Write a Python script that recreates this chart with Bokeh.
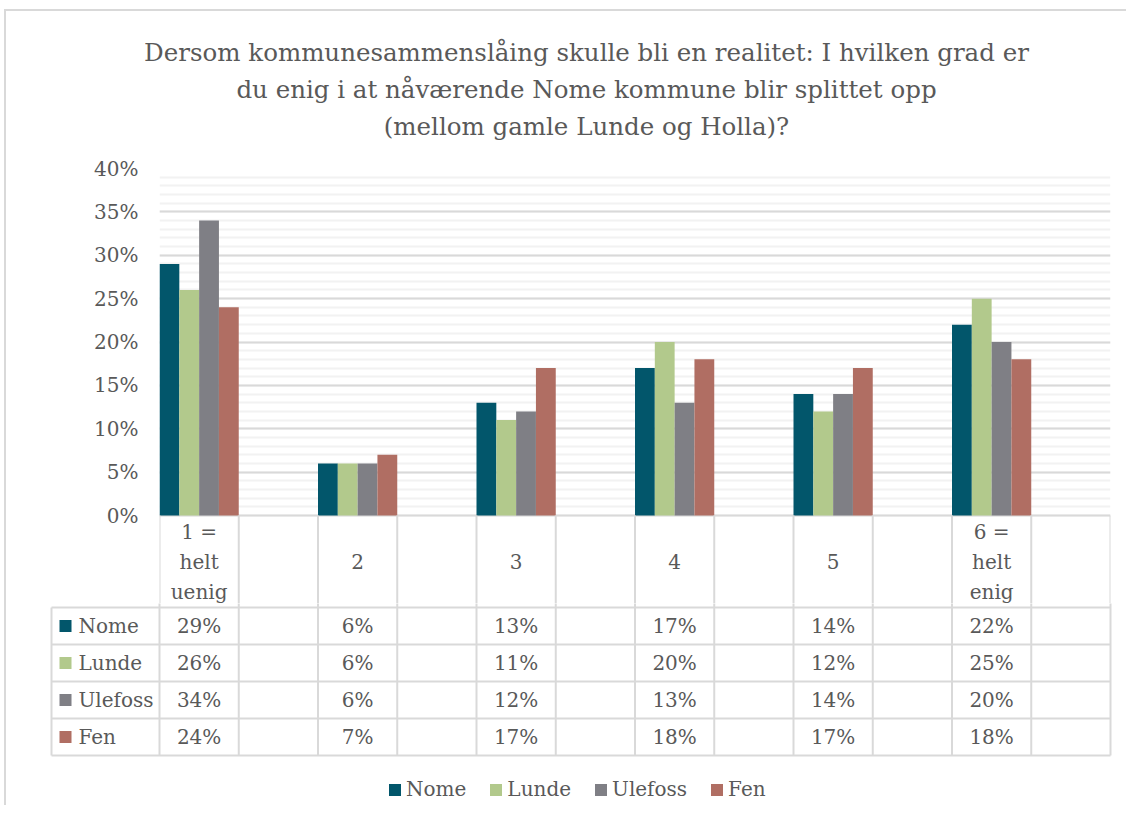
from bokeh.plotting import figure
from bokeh.models import (Range1d, FixedTicker, PrintfTickFormatter,
                          Legend, LegendItem)
from bokeh.layouts import column
from bokeh.embed import file_html
from bokeh.resources import INLINE
from bokeh.core.properties import value

# ---------------- data ----------------
title_lines = [
    "Dersom kommunesammenslåing skulle bli en realitet: I hvilken grad er",
    "du enig i at nåværende Nome kommune blir splittet opp",
    "(mellom gamle Lunde og Holla)?",
]
categories = ["1 =\nhelt\nuenig", "2", "3", "4", "5", "6 =\nhelt\nenig"]
series = ["Nome", "Lunde", "Ulefoss", "Fen"]
nome = [29, 6, 13, 17, 14, 22]
lunde = [26, 6, 11, 20, 12, 25]
ulefoss = [34, 6, 12, 13, 14, 20]
fen = [24, 7, 17, 18, 17, 18]
y_max = 40
y_step = 5
y_ticks = list(range(0, y_max + 1, y_step))
y_minor = list(range(0, y_max + 1, 1))

# ---------------- style ----------------
colors = ["#02566b", "#b2c98c", "#7f7f85", "#b06e63"]
TXT = "#595959"
GRID = "#d9d9d9"
MINOR = "#f2f2f2"
FONT = "DejaVu Serif"
FS = "20px"

# layout (page pixel constants)
ORG_X, ORG_Y = 6, 11
W = 1120
FR_L, FR_R, FR_T, FR_B = 159, 1110, 168, 515
P1_TOP = 150
TB_L = 51
HEADER_H = 92
ROW_H = 37
SEAM = FR_B + HEADER_H - 4     # chart figure (with header row) ends here, table rows below
PAGE_BOTTOM = 805
TITLE_CX = 586
TITLE_Y = [52, 89, 126]
LEGEND_X = 387
LEGEND_CY = 790

data = [nome, lunde, ulefoss, fen]
n_cat = len(categories)
n_cols = 2 * n_cat          # every category is followed by an empty column
col_px = (FR_R - FR_L) / n_cols
px_per_unit = (FR_B - FR_T) / y_max
bar_w = 1.0 / len(series)
x_start = -(FR_L - ORG_X) / col_px
x_end = n_cols + (ORG_X + W - FR_R) / col_px


def bare(height, y_range):
    f = figure(width=W, height=height, x_range=Range1d(x_start, x_end), y_range=y_range,
               output_backend="svg", toolbar_location=None, x_axis_location=None,
               y_axis_location=None, min_border_left=0, min_border_right=0,
               min_border_top=0, min_border_bottom=0)
    f.outline_line_color = None
    f.grid.visible = False
    f.frame_align = False
    return f


# ---------------- title ----------------
t_h = P1_TOP - ORG_Y
pt = bare(t_h, Range1d(t_h, 0))
pt.text(x=[(TITLE_CX - FR_L) / col_px] * len(title_lines), y=[ty - ORG_Y for ty in TITLE_Y],
        text=title_lines, text_font=value(FONT), text_font_size="24.5px", text_color=TXT,
        text_align="center", text_baseline="middle")

# ---------------- chart + header row of the data table ----------------
y_lo = -(SEAM - FR_B) / px_per_unit
p1 = figure(width=W, height=SEAM - P1_TOP, x_range=Range1d(0, n_cols),
            y_range=Range1d(y_lo, y_max),
            output_backend="svg", toolbar_location=None, x_axis_location=None,
            min_border_left=FR_L - ORG_X, min_border_right=ORG_X + W - FR_R,
            min_border_top=FR_T - P1_TOP, min_border_bottom=0)
p1.frame_align = False
p1.outline_line_color = None
p1.xgrid.visible = False
p1.yaxis.ticker = FixedTicker(ticks=y_ticks, minor_ticks=y_minor)
p1.yaxis.formatter = PrintfTickFormatter(format="%d%%")
p1.yaxis.axis_line_color = None
p1.yaxis.major_tick_line_color = None
p1.yaxis.minor_tick_line_color = None
p1.yaxis.major_label_standoff = 15
p1.yaxis.major_label_text_font = FONT
p1.yaxis.major_label_text_font_size = FS
p1.yaxis.major_label_text_color = TXT
p1.ygrid.grid_line_color = GRID
p1.ygrid.grid_line_width = 2
p1.ygrid.minor_grid_line_color = MINOR
p1.ygrid.minor_grid_line_width = 2

for j, (vals, col) in enumerate(zip(data, colors)):
    xs = [2 * i + (j + 0.5) * bar_w for i in range(n_cat)]
    p1.vbar(x=xs, top=vals, width=bar_w, fill_color=col, line_color=None)

vx = list(range(n_cols + 1))
p1.segment(x0=vx, y0=[0] * len(vx), x1=vx, y1=[y_lo * 2] * len(vx), line_color=GRID, line_width=2)
p1.text(x=[2 * i + 0.5 for i in range(n_cat)], y=[-(HEADER_H / 2) / px_per_unit] * n_cat,
        text=categories, text_font=value(FONT), text_font_size=FS, text_color=TXT,
        text_align="center", text_baseline="middle", text_line_height=1.25)

# ---------------- data table rows ----------------
tb_bottom_page = FR_B + HEADER_H + len(series) * ROW_H
rows_top = len(series) * ROW_H
p2 = bare(PAGE_BOTTOM - SEAM,
          Range1d(-(PAGE_BOTTOM - tb_bottom_page), rows_top + (FR_B + HEADER_H - SEAM)))

x_tb = -(FR_L - TB_L) / col_px
p2.segment(x0=vx, y0=[0] * len(vx), x1=vx, y1=[rows_top + HEADER_H] * len(vx),
           line_color=GRID, line_width=2)
p2.segment(x0=[x_tb], y0=[0], x1=[x_tb], y1=[rows_top], line_color=GRID, line_width=2)
hy = [k * ROW_H for k in range(len(series) + 1)]
p2.segment(x0=[x_tb] * len(hy), y0=hy, x1=[n_cols] * len(hy), y1=hy, line_color=GRID, line_width=2)

items = []
for j, (name, vals, col) in enumerate(zip(series, data, colors)):
    yc = (len(series) - 1 - j) * ROW_H + ROW_H / 2
    p2.text(x=[2 * i + 0.5 for i in range(n_cat)], y=[yc] * n_cat, text=[f"{v}%" for v in vals],
            text_font=value(FONT), text_font_size=FS, text_color=TXT, text_align="center",
            text_baseline="middle")
    r = p2.rect(x=[x_tb + 14 / col_px], y=[yc], width=12, height=12, width_units="screen",
                height_units="screen", fill_color=col, line_color=None)
    p2.text(x=[x_tb + 27 / col_px], y=[yc], text=[name], text_font=value(FONT), text_font_size=FS,
            text_color=TXT, text_align="left", text_baseline="middle")
    items.append(LegendItem(label=name, renderers=[r]))

legend = Legend(items=items, orientation="horizontal",
                location=(LEGEND_X - ORG_X, PAGE_BOTTOM - LEGEND_CY - 11),
                glyph_width=15, glyph_height=15, label_standoff=4, spacing=22, padding=0, margin=0,
                label_height=22, label_text_font=FONT, label_text_font_size=FS,
                label_text_color=TXT, border_line_color=None, background_fill_alpha=0)
p2.add_layout(legend, "center")

layout = column(pt, p1, p2, spacing=0,
                styles={"margin-top": "9px", "margin-left": "4px",
                        "border-top": "2px solid #d9d9d9", "border-left": "2px solid #d9d9d9"})

open("out.html", "w").write(file_html(layout, INLINE))
